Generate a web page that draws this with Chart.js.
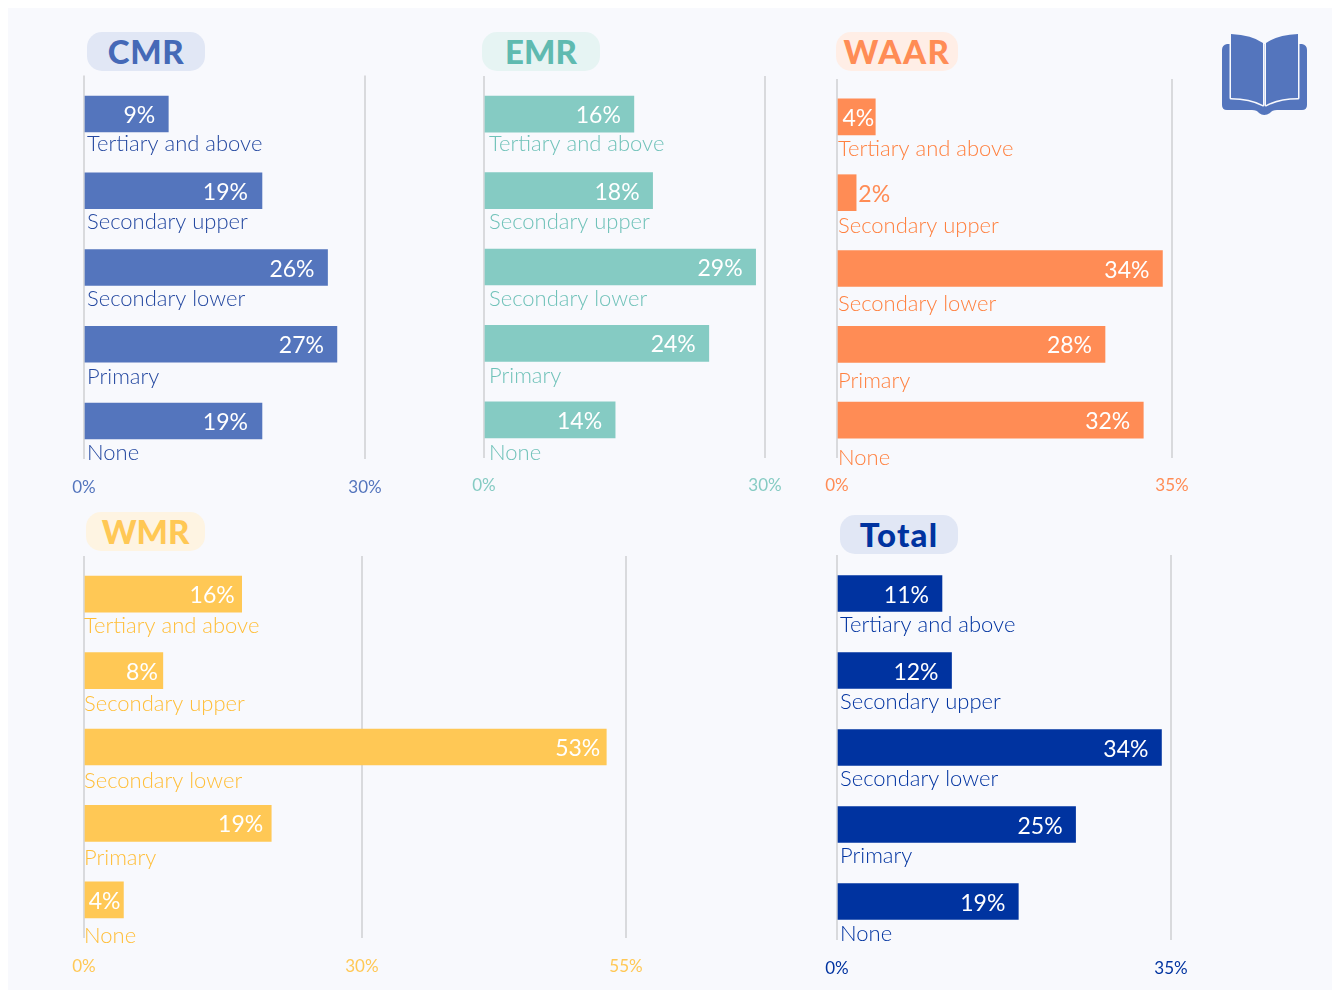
<!DOCTYPE html>
<html><head><meta charset="utf-8">
<script src="https://cdn.jsdelivr.net/npm/chart.js@4"></script>
<style>
html,body{margin:0;padding:0;background:#fff;width:1335px;height:990px;overflow:hidden}
#bg{position:absolute;left:8px;top:8px;width:1324px;height:982px;background:#f8f9fd}
canvas{position:absolute}
.pill{position:absolute;width:118px;height:39px;border-radius:15px;text-align:center;font:900 33px/39px Lato,sans-serif}
svg{position:absolute;left:0;top:0}
</style></head><body>
<div id="bg"></div>
<svg width="1335" height="990">
  <path d="M1227 44 Q1222 45 1222 50 L1222 105 Q1222 110 1227 110 L1252 110 Q1257 110 1259 113 Q1264 117 1270 113 Q1272 110 1277 110 L1302 110 Q1307 110 1307 105 L1307 50 Q1307 45 1302 44 Z" fill="#5475bd"/>
  <path d="M1231 34 Q1252 35 1263 43 L1263 105 Q1250 98 1231 98 Z" fill="#5475bd" stroke="#f8f9fd" stroke-width="3" paint-order="stroke" stroke-linejoin="round"/>
  <path d="M1298 34 Q1277 35 1266 43 L1266 105 Q1279 98 1298 98 Z" fill="#5475bd" stroke="#f8f9fd" stroke-width="3" paint-order="stroke" stroke-linejoin="round"/>
</svg>
<div class="pill" style="left:87px;top:32px;background:#e1e7f5;color:#4569b7;letter-spacing:.6px">CMR</div>
<div class="pill" style="left:482px;top:32px;background:#e6f4f3;color:#5fbab0">EMR</div>
<div class="pill" style="left:836px;top:32px;width:122px;background:#ffeee6;color:#ff8c55;letter-spacing:1.5px">WAAR</div>
<div class="pill" style="left:86px;top:512px;width:119px;background:#fef4e2;color:#ffc855">WMR</div>
<div class="pill" style="left:840px;top:515px;background:#e1e7f5;color:#0033a0;letter-spacing:1.2px">Total</div>
<script>
const categories = ['Tertiary and above','Secondary upper','Secondary lower','Primary','None'];
const cmrValues = [9,19,26,27,19];
const emrValues = [16,18,29,24,14];
const waarValues = [4,2,34,28,32];
const wmrValues = [16,8,53,19,4];
const totalValues = [11,12,34,25,19];
const cmrTicks = [0,30], cmrTickLabels = ['0%','30%'];
const emrTicks = [0,30], emrTickLabels = ['0%','30%'];
const waarTicks = [0,35], waarTickLabels = ['0%','35%'];
const wmrTicks = [0,28.2,55], wmrTickLabels = ['0%','30%','55%'];
const totalTicks = [0,35], totalTickLabels = ['0%','35%'];

const FONT = 'Lato, sans-serif';
const PAD = 40;
const panels = [
 {id:'CMR',vals:cmrValues,ticks:cmrTicks,tl:cmrTickLabels,max:30,l:84,r:365,t:75.6,b:459.4,color:'#5475bd',text:'#2448a0',tick:'#5475bd',inset:[13,14,13,13,14],labelX:3,labelDy:[37,38,38,40,39],tickPad:18},
 {id:'EMR',vals:emrValues,ticks:emrTicks,tl:emrTickLabels,max:30,l:484,r:765,t:76,b:458,color:'#85cbc3',text:'#70c2b9',tick:'#85cbc3',inset:[13,13,13,13,13],labelX:5,labelDy:[37,38,39,40,40],tickPad:17},
 {id:'WAAR',vals:waarValues,ticks:waarTicks,tl:waarTickLabels,max:35,l:837,r:1172,t:79,b:458,color:'#ff8c55',text:'#ff803f',tick:'#ff8c55',inset:[1,-34,13,13,13],labelX:1,labelDy:[39,40,42,44,45],tickPad:17},
 {id:'WMR',vals:wmrValues,ticks:wmrTicks,tl:wmrTickLabels,max:55,l:84,r:626,t:556,b:938,color:'#ffc855',text:'#ffbe38',tick:'#ffc855',inset:[7,5,6,8,3],labelX:0,labelDy:[39,40,41,42,43],tickPad:18},
 {id:'Total',vals:totalValues,ticks:totalTicks,tl:totalTickLabels,max:35,l:837,r:1171,t:555,b:940,color:'#0033a0',text:'#0033a0',tick:'#0033a0',inset:[13,13,13,13,13],labelX:3,labelDy:[38,38,38,38,39],tickPad:18}
];

const labelPlugin = {
  id:'barLabels',
  afterDatasetsDraw(chart,args,opts){
    const p = opts.panel, ctx = chart.ctx, bars = chart.getDatasetMeta(0).data;
    ctx.save();
    bars.forEach((bar,i)=>{
      const inset = p.inset[i];
      ctx.font = '400 23px '+FONT;
      ctx.textAlign = 'right'; ctx.textBaseline = 'alphabetic';
      ctx.fillStyle = inset<0 ? p.color : '#ffffff';
      ctx.fillText(p.vals[i]+'%', bar.x-inset, bar.y+9);
      ctx.font = '300 22px '+FONT;
      ctx.textAlign = 'left';
      ctx.fillStyle = p.text;
      ctx.fillText(categories[i], chart.scales.x.getPixelForValue(0)+p.labelX, bar.y+p.labelDy[i]);
    });
    ctx.restore();
  }
};

panels.forEach(p=>{
  const topPx = Math.floor(p.t)-10, botPx = Math.ceil(p.b);
  const w = p.r-p.l+2*PAD, h = botPx-topPx+40;
  const c = document.createElement('canvas');
  c.style.left=(p.l-PAD)+'px'; c.style.top=topPx+'px';
  c.style.width=w+'px'; c.style.height=h+'px';
  document.body.appendChild(c);
  new Chart(c,{
    type:'bar',
    data:{labels:categories,datasets:[{data:p.vals,backgroundColor:p.color,barThickness:36,borderWidth:0}]},
    plugins:[labelPlugin],
    options:{
      indexAxis:'y',responsive:false,animation:false,devicePixelRatio:1,
      layout:{padding:{left:PAD,right:PAD,top:p.t-topPx,bottom:botPx-p.b}},
      plugins:{legend:{display:false},title:{display:false},tooltip:{enabled:false},barLabels:{panel:p}},
      scales:{
        x:{type:'linear',position:'bottom',min:0,max:p.max,
           afterBuildTicks(s){s.ticks=p.ticks.map(v=>({value:v}));},
           afterFit(s){s.height=40;},
           grid:{color:'#d9dadd',lineWidth:2,drawTicks:false},
           border:{display:false},
           ticks:{autoSkip:false,maxRotation:0,padding:p.tickPad,color:p.tick,font:{family:'Lato',size:17,weight:400},
                  callback:(v,i)=>p.tl[i]}},
        y:{type:'category',afterFit(s){s.width=0;},grid:{display:false},border:{display:false},ticks:{display:false}}
      }
    }
  });
});
</script>
</body></html>
